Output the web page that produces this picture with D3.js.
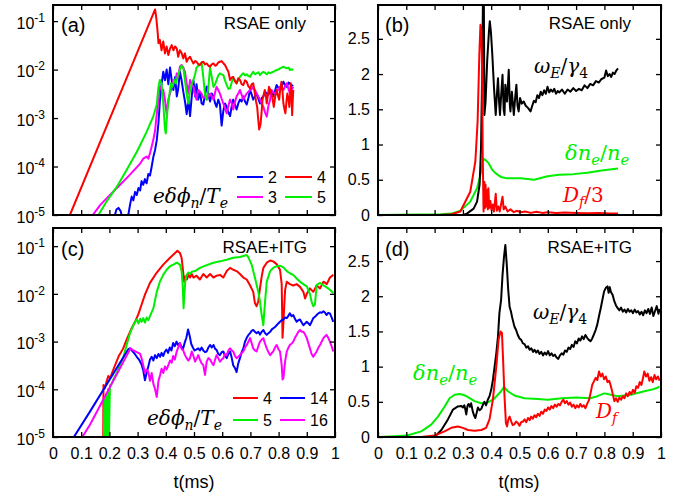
<!DOCTYPE html>
<html>
<head>
<meta charset="utf-8">
<script src="https://cdn.jsdelivr.net/npm/d3@7"></script>
<style>
  body { margin: 0; background: #fff; }
  text { font-family: "Liberation Sans", Arial, Helvetica, sans-serif; fill: #000; }
  .math { font-family: "DejaVu Serif", "Liberation Serif", serif; }
</style>
</head>
<body>
<svg id="fig" width="677" height="498"></svg>
<script>
// ---- data: [t (ms), value] ----

// tick values / labels
var xTicks = [0, 0.1, 0.2, 0.3, 0.4, 0.5, 0.6, 0.7, 0.8, 0.9, 1];
var xTickLabels = ["0", "0.1", "0.2", "0.3", "0.4", "0.5", "0.6", "0.7", "0.8", "0.9", "1"];
var logTicks = [1e-5, 1e-4, 1e-3, 1e-2, 1e-1];
var logTickExps = ["-5", "-4", "-3", "-2", "-1"];
var linTicks = [0, 0.5, 1, 1.5, 2, 2.5];
var linTickLabels = ["0", "0.5", "1", "1.5", "2", "2.5"];

// (a) RSAE only, e dphi_n / T_e
var a_n2 = [[0.215,8e-6],[0.225,1.3e-5],[0.232,1.4e-5],[0.240,1.2e-5],[0.245,9e-6],[0.262,5e-6],[0.267,1e-5],[0.273,1.6e-5],[0.279,2.4e-5],[0.285,2.0e-5],[0.291,3.0e-5],[0.297,2.6e-5],[0.303,3.6e-5],[0.309,3.2e-5],[0.314,5.0e-5],[0.320,4.2e-5],[0.326,5.5e-5],[0.332,4.5e-5],[0.338,7e-5],[0.344,6.5e-5],[0.350,1.0e-4],[0.356,1.6e-4],[0.362,2.2e-4],[0.368,3.5e-4],[0.374,8e-4],[0.379,2.2e-3],[0.385,5e-3],[0.391,9e-3],[0.397,6e-3],[0.403,1.0e-2],[0.409,5e-3],[0.415,1.1e-2],[0.421,6e-3],[0.427,3.8e-3],[0.433,7e-3],[0.439,2.8e-3],[0.444,4e-3],[0.450,9e-3],[0.456,6e-3],[0.462,3.5e-3],[0.468,2.2e-3],[0.474,1.2e-3],[0.480,2.4e-3],[0.486,1.1e-3],[0.492,2.8e-3],[0.498,6e-3],[0.504,2.8e-3],[0.509,5e-3],[0.515,2.4e-3],[0.521,3.5e-3],[0.527,2.0e-3],[0.533,1.9e-3],[0.539,3.0e-3],[0.545,4.5e-3],[0.551,3.0e-3],[0.557,2.2e-3],[0.563,3.2e-3],[0.569,2.8e-3],[0.575,2.0e-3],[0.580,1.7e-3],[0.586,2.4e-3],[0.592,1.9e-3],[0.598,7e-4],[0.604,1.4e-3],[0.610,2.0e-3],[0.616,1.7e-3],[0.622,1.3e-3],[0.628,1.1e-3],[0.634,1.8e-3],[0.639,2.4e-3],[0.645,1.9e-3],[0.651,1.5e-3],[0.657,2.0e-3],[0.663,2.4e-3],[0.669,2.2e-3],[0.675,2.8e-3],[0.681,2.2e-3],[0.687,1.9e-3],[0.693,2.6e-3],[0.699,3.8e-3],[0.705,3.0e-3],[0.710,2.4e-3],[0.716,2.8e-3],[0.722,3.2e-3],[0.728,2.5e-3],[0.734,2.0e-3],[0.740,2.6e-3],[0.746,2.8e-3],[0.752,3.5e-3],[0.758,3.2e-3],[0.764,3.0e-3],[0.770,3.8e-3],[0.776,3.2e-3],[0.781,2.8e-3],[0.787,3.6e-3],[0.793,4.8e-3],[0.799,4.2e-3],[0.805,3.8e-3],[0.811,4.6e-3],[0.817,5.6e-3],[0.823,4.8e-3],[0.829,4.4e-3],[0.835,5.4e-3],[0.840,5.2e-3],[0.846,4.6e-3],[0.852,4.8e-3]];
var a_n3 = [[0.141,1e-5],[0.167,1.6e-5],[0.202,2.6e-5],[0.238,4.2e-5],[0.273,6.8e-5],[0.309,1.15e-4],[0.320,1.45e-4],[0.332,1.6e-4],[0.338,1.45e-4],[0.344,1.9e-4],[0.350,2.6e-4],[0.356,3.6e-4],[0.362,5.6e-4],[0.368,1.2e-3],[0.374,2.4e-3],[0.379,4.4e-3],[0.385,4.0e-3],[0.391,3.8e-3],[0.397,2.4e-3],[0.403,1.2e-3],[0.409,2.4e-3],[0.415,3.2e-3],[0.421,4.4e-3],[0.427,6.1e-3],[0.433,5.5e-3],[0.439,8.4e-3],[0.444,7.1e-3],[0.450,1.15e-2],[0.456,1.24e-2],[0.462,1.1e-2],[0.468,9e-3],[0.474,5.2e-3],[0.480,3.2e-3],[0.486,6.1e-3],[0.492,5.0e-3],[0.498,4.4e-3],[0.504,3.0e-3],[0.509,2.4e-3],[0.515,3.8e-3],[0.521,3.5e-3],[0.527,3.2e-3],[0.533,2.6e-3],[0.539,2.8e-3],[0.545,2.4e-3],[0.551,2.9e-3],[0.557,3.2e-3],[0.563,2.8e-3],[0.569,2.4e-3],[0.575,3.4e-3],[0.580,4.4e-3],[0.586,3.8e-3],[0.592,3.2e-3],[0.598,2.5e-3],[0.604,2.0e-3],[0.610,1.6e-3],[0.616,1.25e-3],[0.622,1.8e-3],[0.628,2.4e-3],[0.634,2.0e-3],[0.639,1.5e-3],[0.645,2.1e-3],[0.651,2.8e-3],[0.657,3.2e-3],[0.663,3.8e-3],[0.669,3.0e-3],[0.675,2.4e-3],[0.681,2.8e-3],[0.687,3.2e-3],[0.693,3.5e-3],[0.699,3.8e-3],[0.705,4.0e-3],[0.710,4.4e-3],[0.716,3.8e-3],[0.722,3.2e-3],[0.728,2.8e-3],[0.734,2.4e-3],[0.740,2.0e-3],[0.746,1.7e-3],[0.752,1.3e-3],[0.758,1.07e-3],[0.764,1.8e-3],[0.770,2.4e-3],[0.775,3.8e-3],[0.781,3.4e-3],[0.787,3.2e-3],[0.793,3.4e-3],[0.799,3.9e-3],[0.805,4.4e-3],[0.811,4.1e-3],[0.817,3.8e-3],[0.823,4.5e-3],[0.829,5.2e-3],[0.835,4.0e-3],[0.840,3.2e-3],[0.846,3.8e-3],[0.852,4.4e-3]];
var a_n4 = [[0.060,1e-5],[0.362,0.174],[0.366,0.12],[0.371,0.06],[0.374,0.035],[0.379,0.041],[0.385,0.025],[0.391,0.038],[0.397,0.0216],[0.403,0.030],[0.409,0.020],[0.415,0.027],[0.421,0.032],[0.427,0.025],[0.433,0.030],[0.439,0.027],[0.444,0.0184],[0.450,0.025],[0.456,0.022],[0.462,0.017],[0.468,0.0216],[0.474,0.0145],[0.480,0.017],[0.486,0.0184],[0.492,0.0155],[0.498,0.0134],[0.504,0.0150],[0.509,0.0145],[0.515,0.0130],[0.521,0.0124],[0.527,0.0140],[0.533,0.0145],[0.539,0.0128],[0.545,0.0134],[0.551,0.0120],[0.557,0.0115],[0.563,0.0128],[0.569,0.0134],[0.575,0.0120],[0.580,0.0124],[0.586,0.0140],[0.592,0.0145],[0.598,0.0150],[0.604,0.0135],[0.610,0.0124],[0.616,0.0105],[0.622,0.0090],[0.628,0.0061],[0.634,0.0068],[0.639,0.0071],[0.645,0.0058],[0.651,0.0052],[0.657,0.0066],[0.663,0.0061],[0.669,0.0050],[0.675,0.0048],[0.681,0.0060],[0.687,0.0056],[0.693,0.0045],[0.699,0.0041],[0.705,0.0050],[0.710,0.0052],[0.716,0.0032],[0.720,0.0022],[0.724,0.0017],[0.728,0.0009],[0.731,0.00058],[0.736,0.00075],[0.740,0.0014],[0.743,0.0024],[0.747,0.0030],[0.751,0.0038],[0.755,0.0028],[0.758,0.0020],[0.762,0.0030],[0.766,0.0044],[0.770,0.0038],[0.775,0.0032],[0.779,0.0024],[0.783,0.0017],[0.788,0.0028],[0.793,0.0038],[0.797,0.0030],[0.802,0.0024],[0.806,0.0040],[0.810,0.0056],[0.814,0.0035],[0.817,0.0020],[0.821,0.0015],[0.824,0.00125],[0.828,0.0022],[0.831,0.0032],[0.835,0.0025],[0.838,0.0017],[0.841,0.0030],[0.843,0.0052],[0.846,0.0030],[0.848,0.00115],[0.850,0.0022],[0.852,0.0038]];
var a_n5 = [[0.161,1e-5],[0.190,1.9e-5],[0.226,3.8e-5],[0.261,8.5e-5],[0.297,2.0e-4],[0.332,5.2e-4],[0.356,1.1e-3],[0.368,1.9e-3],[0.374,4.4e-3],[0.379,6.1e-3],[0.385,5.2e-3],[0.391,2.0e-3],[0.397,6e-4],[0.400,4.8e-4],[0.406,1.5e-3],[0.412,2.8e-3],[0.418,5.2e-3],[0.424,4.4e-3],[0.430,6.1e-3],[0.436,5.2e-3],[0.442,7.1e-3],[0.450,1.0e-2],[0.456,1.2e-2],[0.462,1.1e-2],[0.468,6e-3],[0.474,3.2e-3],[0.480,2.0e-3],[0.486,3.8e-3],[0.492,5.0e-3],[0.498,6.1e-3],[0.504,8.0e-3],[0.509,1.1e-2],[0.515,1.2e-2],[0.521,1.25e-2],[0.527,1.4e-2],[0.533,7e-3],[0.539,3.0e-3],[0.545,2.4e-3],[0.551,4.4e-3],[0.557,1.1e-2],[0.563,7.0e-3],[0.569,4.4e-3],[0.575,5.0e-3],[0.580,6.1e-3],[0.586,7.5e-3],[0.592,8.4e-3],[0.598,8.0e-3],[0.604,7.7e-3],[0.610,6.0e-3],[0.616,4.8e-3],[0.622,4.0e-3],[0.628,4.1e-3],[0.634,5.5e-3],[0.639,6.6e-3],[0.645,6.0e-3],[0.651,5.2e-3],[0.657,6.2e-3],[0.663,7.1e-3],[0.669,7.8e-3],[0.675,8.4e-3],[0.681,7.6e-3],[0.687,8.0e-3],[0.693,7.4e-3],[0.699,7.1e-3],[0.705,8.2e-3],[0.710,9.0e-3],[0.716,8.0e-3],[0.722,8.4e-3],[0.728,8.8e-3],[0.734,7.7e-3],[0.740,8.5e-3],[0.746,9.0e-3],[0.752,8.6e-3],[0.758,8.0e-3],[0.764,8.8e-3],[0.770,8.4e-3],[0.776,8.8e-3],[0.781,9.0e-3],[0.787,9.4e-3],[0.793,9.8e-3],[0.799,1.0e-2],[0.805,1.06e-2],[0.811,1.1e-2],[0.817,1.15e-2],[0.823,1.1e-2],[0.829,1.06e-2],[0.835,1.1e-2],[0.840,9.8e-3],[0.846,1.02e-2],[0.852,9.8e-3]];

// (b) RSAE only
var b_omega = [[0,0],[0.30,0],[0.314,0.02],[0.338,0.09],[0.350,0.19],[0.359,0.43],[0.364,0.95],[0.368,2.0],[0.371,3.1],[0.374,3.1],[0.376,1.42],[0.380,1.6],[0.386,2.2],[0.392,2.6],[0.395,2.75],[0.399,2.6],[0.404,2.27],[0.410,1.80],[0.416,1.42],[0.420,1.70],[0.424,1.94],[0.428,1.60],[0.431,1.42],[0.436,1.75],[0.440,1.99],[0.444,1.50],[0.447,1.42],[0.450,1.85],[0.456,1.61],[0.462,2.06],[0.466,1.55],[0.468,1.47],[0.473,1.75],[0.480,1.42],[0.485,1.68],[0.489,1.85],[0.493,1.55],[0.497,1.47],[0.502,1.66],[0.508,1.58],[0.515,1.61],[0.522,1.55],[0.530,1.52],[0.539,1.47],[0.545,1.55],[0.551,1.62],[0.557,1.60],[0.563,1.70],[0.569,1.66],[0.575,1.75],[0.581,1.70],[0.587,1.77],[0.593,1.72],[0.599,1.82],[0.605,1.74],[0.611,1.78],[0.617,1.75],[0.623,1.79],[0.629,1.72],[0.635,1.76],[0.641,1.74],[0.650,1.78],[0.660,1.72],[0.670,1.78],[0.680,1.75],[0.690,1.80],[0.700,1.76],[0.710,1.79],[0.720,1.77],[0.730,1.84],[0.740,1.80],[0.750,1.86],[0.760,1.84],[0.770,1.90],[0.780,1.88],[0.790,1.93],[0.800,1.95],[0.806,2.05],[0.812,1.97],[0.818,2.00],[0.824,1.96],[0.830,2.02],[0.836,2.00],[0.842,2.05],[0.848,2.08]];
var b_dn = [[0,0],[0.22,0.01],[0.260,0.02],[0.291,0.06],[0.326,0.19],[0.350,0.38],[0.362,0.57],[0.372,0.80],[0.380,0.78],[0.390,0.74],[0.404,0.64],[0.416,0.59],[0.434,0.54],[0.457,0.52],[0.505,0.52],[0.552,0.50],[0.599,0.55],[0.640,0.57],[0.690,0.58],[0.740,0.60],[0.790,0.63],[0.848,0.66]];
var b_df3 = [[0,0],[0.22,0],[0.260,0.01],[0.291,0.05],[0.326,0.33],[0.344,0.76],[0.352,1.33],[0.358,2.27],[0.362,2.70],[0.365,2.65],[0.368,2.04],[0.370,0.85],[0.373,0.05],[0.376,0.47],[0.378,0.10],[0.380,0.43],[0.383,0.12],[0.386,0.35],[0.388,0.08],[0.390,0.38],[0.393,0.10],[0.397,0.20],[0.401,0.07],[0.406,0.15],[0.410,0.05],[0.416,0.30],[0.420,0.06],[0.425,0.12],[0.430,0.05],[0.440,0.26],[0.444,0.08],[0.450,0.12],[0.458,0.05],[0.468,0.08],[0.480,0.04],[0.490,0.06],[0.505,0.04],[0.520,0.05],[0.540,0.03],[0.56,0.045],[0.58,0.03],[0.60,0.04],[0.63,0.03],[0.66,0.035],[0.70,0.03],[0.74,0.025],[0.78,0.03],[0.82,0.02],[0.848,0.02]];

// (c) RSAE+ITG, e dphi_n / T_e
var c_n4 = [[0.178,6e-6],[0.179,1.23e-4],[0.184,1.05e-4],[0.190,1.45e-4],[0.196,1.9e-4],[0.202,1.7e-4],[0.214,2.6e-4],[0.232,4.8e-4],[0.249,7.2e-4],[0.261,1.1e-3],[0.279,1.9e-3],[0.291,2.6e-3],[0.303,3.8e-3],[0.314,5.9e-3],[0.326,9.6e-3],[0.344,1.7e-2],[0.368,2.8e-2],[0.391,4.1e-2],[0.415,5.7e-2],[0.433,7.2e-2],[0.441,8.0e-2],[0.450,7.2e-2],[0.456,5.7e-2],[0.460,3.5e-2],[0.465,1.8e-2],[0.469,2.3e-2],[0.475,2.0e-2],[0.480,2.5e-2],[0.486,2.2e-2],[0.492,2.6e-2],[0.498,2.2e-2],[0.509,2.4e-2],[0.521,2.0e-2],[0.533,2.6e-2],[0.545,2.2e-2],[0.557,2.6e-2],[0.569,2.2e-2],[0.580,2.4e-2],[0.592,2.5e-2],[0.604,2.2e-2],[0.616,3.0e-2],[0.628,3.5e-2],[0.639,3.2e-2],[0.651,3.0e-2],[0.663,2.6e-2],[0.675,2.2e-2],[0.687,2.0e-2],[0.699,1.5e-2],[0.710,1.1e-2],[0.716,6.4e-3],[0.722,5.5e-3],[0.728,7.0e-3],[0.734,1.3e-2],[0.740,2.3e-2],[0.746,3.5e-2],[0.758,4.5e-2],[0.770,5.0e-2],[0.781,4.8e-2],[0.793,4.2e-2],[0.805,3.2e-2],[0.811,1.6e-2],[0.814,1.2e-3],[0.817,2.5e-3],[0.823,1.2e-2],[0.829,1.8e-2],[0.840,1.6e-2],[0.852,1.5e-2],[0.864,1.6e-2],[0.876,1.4e-2],[0.888,1.1e-2],[0.894,8e-3],[0.900,1.0e-2],[0.911,1.3e-2],[0.923,1.1e-2],[0.935,1.5e-2],[0.947,1.3e-2],[0.959,1.8e-2],[0.971,1.6e-2],[0.982,2.2e-2],[0.994,2.5e-2]];
var c_n5 = [[0.180,5e-6],[0.182,6e-5],[0.185,6e-6],[0.188,8e-5],[0.191,6e-6],[0.195,1.0e-4],[0.198,7e-6],[0.202,1.2e-4],[0.208,1.3e-4],[0.214,1.6e-4],[0.226,2.2e-4],[0.238,3.2e-4],[0.250,4.8e-4],[0.261,8.5e-4],[0.273,1.5e-3],[0.285,2.2e-3],[0.291,2.6e-3],[0.297,2.9e-3],[0.303,2.4e-3],[0.309,3.0e-3],[0.314,2.6e-3],[0.320,3.1e-3],[0.326,2.5e-3],[0.332,3.2e-3],[0.338,2.8e-3],[0.344,3.4e-3],[0.356,5.0e-3],[0.368,1.1e-2],[0.379,1.8e-2],[0.391,2.5e-2],[0.403,3.2e-2],[0.415,3.8e-2],[0.427,4.1e-2],[0.439,4.5e-2],[0.450,4.1e-2],[0.456,3.0e-2],[0.460,1.5e-2],[0.463,5.0e-3],[0.466,1.0e-2],[0.469,1.8e-2],[0.474,2.5e-2],[0.480,2.8e-2],[0.486,2.6e-2],[0.492,2.9e-2],[0.504,3.0e-2],[0.521,3.5e-2],[0.545,4.0e-2],[0.569,4.5e-2],[0.592,4.8e-2],[0.616,5.2e-2],[0.639,5.7e-2],[0.663,5.9e-2],[0.687,6.5e-2],[0.693,5.8e-2],[0.699,4.8e-2],[0.705,4.0e-2],[0.710,3.0e-2],[0.716,2.2e-2],[0.722,1.55e-2],[0.728,1.1e-2],[0.734,6.9e-3],[0.740,3.6e-3],[0.746,2.2e-3],[0.749,4.0e-3],[0.752,6.9e-3],[0.758,1.8e-2],[0.770,3.0e-2],[0.781,3.5e-2],[0.793,3.8e-2],[0.805,3.9e-2],[0.817,3.6e-2],[0.829,3.0e-2],[0.840,2.7e-2],[0.852,2.5e-2],[0.864,2.1e-2],[0.876,1.8e-2],[0.888,1.6e-2],[0.900,1.44e-2],[0.911,1.0e-2],[0.917,6.9e-3],[0.923,5.5e-3],[0.929,6.0e-3],[0.935,1.55e-2],[0.947,1.7e-2],[0.959,1.5e-2],[0.965,1.44e-2],[0.976,1.3e-2],[0.982,1.22e-2],[0.994,1.04e-2]];
var c_n14 = [[0.074,1e-5],[0.131,3.4e-5],[0.267,6.9e-4],[0.273,7.2e-4],[0.280,6.5e-4],[0.290,5.5e-4],[0.297,4.8e-4],[0.305,4.2e-4],[0.314,3.3e-4],[0.320,2.5e-4],[0.326,1.55e-4],[0.332,2.2e-4],[0.338,3.0e-4],[0.344,4.2e-4],[0.350,4.8e-4],[0.356,4.0e-4],[0.362,5.2e-4],[0.368,4.5e-4],[0.374,5.5e-4],[0.380,4.8e-4],[0.385,5.8e-4],[0.391,5.0e-4],[0.397,6.2e-4],[0.402,6.8e-4],[0.408,5.8e-4],[0.414,7.5e-4],[0.420,6.5e-4],[0.426,9.3e-4],[0.432,8.0e-4],[0.438,1.0e-3],[0.443,8.5e-4],[0.449,9.3e-4],[0.455,8.0e-4],[0.461,7.0e-4],[0.467,9.5e-4],[0.473,1.2e-3],[0.479,1.8e-3],[0.485,1.3e-3],[0.490,9.0e-4],[0.496,7.5e-4],[0.502,6.5e-4],[0.508,6.8e-4],[0.515,7.2e-4],[0.521,6.5e-4],[0.527,7.5e-4],[0.533,6.5e-4],[0.539,6.0e-4],[0.545,6.2e-4],[0.551,7.5e-4],[0.557,8.5e-4],[0.563,7.5e-4],[0.569,8.5e-4],[0.575,7.0e-4],[0.580,6.7e-4],[0.586,5.5e-4],[0.592,5.2e-4],[0.598,6.0e-4],[0.604,6.2e-4],[0.610,5.0e-4],[0.616,4.5e-4],[0.622,5.5e-4],[0.628,6.2e-4],[0.634,4.5e-4],[0.639,3.2e-4],[0.645,2.8e-4],[0.651,2.3e-4],[0.657,3.5e-4],[0.663,4.5e-4],[0.669,6.0e-4],[0.675,7.2e-4],[0.681,1.0e-3],[0.687,1.2e-3],[0.693,1.38e-3],[0.699,1.5e-3],[0.705,1.7e-3],[0.710,1.75e-3],[0.716,1.6e-3],[0.722,1.5e-3],[0.728,1.6e-3],[0.734,1.4e-3],[0.740,1.6e-3],[0.746,1.75e-3],[0.752,1.5e-3],[0.758,1.38e-3],[0.764,1.5e-3],[0.770,1.6e-3],[0.776,1.8e-3],[0.781,1.9e-3],[0.787,2.0e-3],[0.793,2.2e-3],[0.799,2.4e-3],[0.805,2.6e-3],[0.811,2.8e-3],[0.817,2.9e-3],[0.823,3.2e-3],[0.829,3.1e-3],[0.835,3.5e-3],[0.840,3.9e-3],[0.846,3.4e-3],[0.852,3.6e-3],[0.858,3.0e-3],[0.864,2.6e-3],[0.870,2.8e-3],[0.876,2.9e-3],[0.882,2.5e-3],[0.888,2.2e-3],[0.894,2.4e-3],[0.900,2.6e-3],[0.906,2.4e-3],[0.911,2.2e-3],[0.917,2.6e-3],[0.923,3.1e-3],[0.929,3.3e-3],[0.935,3.6e-3],[0.941,3.9e-3],[0.947,4.1e-3],[0.953,4.0e-3],[0.959,4.3e-3],[0.965,4.0e-3],[0.970,3.6e-3],[0.976,4.0e-3],[0.982,3.9e-3],[0.988,3.2e-3],[0.994,2.6e-3]];
var c_n16 = [[0.104,1e-5],[0.131,1.8e-5],[0.275,7.2e-4],[0.285,6.5e-4],[0.297,6.0e-4],[0.309,5.5e-4],[0.314,4.5e-4],[0.320,3.2e-4],[0.326,2.2e-4],[0.332,2.6e-4],[0.338,2.3e-4],[0.344,1.5e-4],[0.350,2.2e-4],[0.356,1.3e-4],[0.362,1.0e-4],[0.368,6.9e-5],[0.374,1.5e-4],[0.380,2.0e-4],[0.385,2.7e-4],[0.391,2.2e-4],[0.397,3.0e-4],[0.403,2.6e-4],[0.409,3.2e-4],[0.415,4.0e-4],[0.421,3.6e-4],[0.426,5.0e-4],[0.432,4.2e-4],[0.438,6.0e-4],[0.444,7.5e-4],[0.450,9.3e-4],[0.456,7.0e-4],[0.462,6.5e-4],[0.468,5.2e-4],[0.474,4.5e-4],[0.480,4.0e-4],[0.486,4.5e-4],[0.492,6.2e-4],[0.498,5.0e-4],[0.504,3.8e-4],[0.510,4.5e-4],[0.515,5.2e-4],[0.521,4.2e-4],[0.527,3.5e-4],[0.533,3.2e-4],[0.539,2.0e-4],[0.545,3.8e-4],[0.551,4.5e-4],[0.557,4.2e-4],[0.563,3.6e-4],[0.569,3.2e-4],[0.575,4.2e-4],[0.580,5.2e-4],[0.586,4.5e-4],[0.592,3.8e-4],[0.598,4.2e-4],[0.604,4.5e-4],[0.610,5.5e-4],[0.616,5.2e-4],[0.622,6.5e-4],[0.628,7.2e-4],[0.634,6.5e-4],[0.639,6.2e-4],[0.645,5.0e-4],[0.651,4.5e-4],[0.657,4.8e-4],[0.663,5.2e-4],[0.669,5.8e-4],[0.675,6.2e-4],[0.681,7.5e-4],[0.687,8.5e-4],[0.693,1.0e-3],[0.699,1.18e-3],[0.705,9.0e-4],[0.710,7.2e-4],[0.716,6.5e-4],[0.722,6.2e-4],[0.728,8.0e-4],[0.734,1.0e-3],[0.740,1.1e-3],[0.746,1.18e-3],[0.752,9.0e-4],[0.758,7.2e-4],[0.764,6.0e-4],[0.770,5.2e-4],[0.776,5.8e-4],[0.781,6.2e-4],[0.787,7.5e-4],[0.793,8.5e-4],[0.799,7.0e-4],[0.805,6.2e-4],[0.811,3.2e-4],[0.814,1.6e-4],[0.817,1.7e-4],[0.823,3.8e-4],[0.829,6.2e-4],[0.835,7.5e-4],[0.840,8.5e-4],[0.846,9.0e-4],[0.852,1.0e-3],[0.858,1.2e-3],[0.864,1.38e-3],[0.870,1.6e-3],[0.876,1.75e-3],[0.882,1.6e-3],[0.888,1.6e-3],[0.894,1.4e-3],[0.900,1.18e-3],[0.906,9.0e-4],[0.911,7.2e-4],[0.917,5.5e-4],[0.923,4.8e-4],[0.929,5.5e-4],[0.935,6.2e-4],[0.941,7.5e-4],[0.947,8.5e-4],[0.953,1.0e-3],[0.959,1.18e-3],[0.965,1.3e-3],[0.970,1.38e-3],[0.976,1.2e-3],[0.982,1.0e-3],[0.988,8.0e-4],[0.994,6.2e-4]];

// (d) RSAE+ITG
var d_omega = [[0,0],[0.2,0],[0.224,0.10],[0.247,0.25],[0.265,0.39],[0.282,0.435],[0.295,0.44],[0.300,0.42],[0.305,0.45],[0.308,0.40],[0.312,0.32],[0.316,0.44],[0.320,0.47],[0.325,0.43],[0.329,0.48],[0.335,0.36],[0.340,0.30],[0.344,0.27],[0.349,0.35],[0.353,0.42],[0.359,0.38],[0.365,0.40],[0.371,0.46],[0.376,0.50],[0.382,0.45],[0.388,0.53],[0.394,0.58],[0.400,0.67],[0.406,0.81],[0.412,1.0],[0.418,1.19],[0.424,1.43],[0.429,1.76],[0.435,1.95],[0.440,2.3],[0.445,2.55],[0.450,2.73],[0.455,2.45],[0.460,2.1],[0.465,1.85],[0.470,1.78],[0.474,1.70],[0.482,1.57],[0.488,1.52],[0.494,1.45],[0.500,1.40],[0.506,1.38],[0.512,1.33],[0.518,1.32],[0.524,1.27],[0.530,1.29],[0.536,1.24],[0.542,1.26],[0.548,1.21],[0.553,1.24],[0.559,1.20],[0.565,1.23],[0.571,1.18],[0.577,1.21],[0.583,1.16],[0.589,1.20],[0.595,1.17],[0.601,1.22],[0.607,1.16],[0.613,1.19],[0.619,1.15],[0.625,1.17],[0.631,1.13],[0.637,1.11],[0.643,1.16],[0.649,1.19],[0.655,1.17],[0.661,1.23],[0.667,1.21],[0.673,1.27],[0.679,1.25],[0.685,1.31],[0.691,1.28],[0.697,1.36],[0.703,1.33],[0.709,1.40],[0.715,1.37],[0.721,1.43],[0.727,1.39],[0.733,1.45],[0.739,1.41],[0.745,1.38],[0.751,1.36],[0.757,1.40],[0.763,1.46],[0.769,1.52],[0.775,1.60],[0.781,1.72],[0.787,1.83],[0.793,1.95],[0.799,2.07],[0.805,2.12],[0.811,2.14],[0.815,2.05],[0.819,2.13],[0.823,2.06],[0.829,2.02],[0.835,1.93],[0.841,1.87],[0.847,1.83],[0.853,1.80],[0.859,1.84],[0.865,1.78],[0.871,1.81],[0.877,1.77],[0.883,1.82],[0.889,1.78],[0.895,1.80],[0.901,1.76],[0.907,1.81],[0.913,1.77],[0.919,1.79],[0.925,1.74],[0.931,1.78],[0.937,1.73],[0.943,1.80],[0.949,1.76],[0.955,1.82],[0.961,1.75],[0.967,1.84],[0.973,1.72],[0.979,1.79],[0.985,1.86],[0.991,1.75],[0.995,1.82]];
var d_dn = [[0,0],[0.06,0.01],[0.10,0.02],[0.118,0.04],[0.153,0.08],[0.188,0.175],[0.212,0.29],[0.235,0.43],[0.253,0.55],[0.271,0.60],[0.288,0.61],[0.300,0.60],[0.312,0.58],[0.341,0.51],[0.365,0.48],[0.388,0.49],[0.412,0.55],[0.435,0.65],[0.445,0.71],[0.459,0.65],[0.482,0.59],[0.518,0.55],[0.565,0.54],[0.60,0.53],[0.65,0.55],[0.70,0.56],[0.75,0.55],[0.775,0.58],[0.80,0.62],[0.823,0.60],[0.846,0.58],[0.87,0.59],[0.894,0.60],[0.917,0.625],[0.941,0.65],[0.965,0.67],[0.988,0.70],[0.995,0.72]];
var d_df = [[0,0],[0.153,0],[0.2,0.02],[0.235,0.08],[0.259,0.13],[0.282,0.15],[0.300,0.13],[0.318,0.10],[0.341,0.09],[0.365,0.10],[0.382,0.13],[0.394,0.25],[0.406,0.53],[0.418,1.0],[0.426,1.38],[0.433,1.50],[0.438,1.48],[0.442,1.10],[0.447,0.58],[0.452,0.20],[0.456,0.15],[0.460,0.24],[0.465,0.29],[0.471,0.22],[0.476,0.17],[0.482,0.18],[0.488,0.22],[0.494,0.20],[0.500,0.16],[0.506,0.21],[0.512,0.22],[0.518,0.25],[0.524,0.21],[0.530,0.27],[0.536,0.24],[0.541,0.29],[0.547,0.26],[0.553,0.31],[0.559,0.28],[0.565,0.33],[0.571,0.30],[0.577,0.36],[0.583,0.33],[0.589,0.39],[0.595,0.37],[0.601,0.42],[0.607,0.39],[0.613,0.44],[0.619,0.41],[0.625,0.46],[0.631,0.43],[0.637,0.47],[0.643,0.45],[0.649,0.50],[0.655,0.53],[0.661,0.48],[0.667,0.51],[0.673,0.46],[0.679,0.49],[0.685,0.43],[0.691,0.46],[0.697,0.41],[0.703,0.45],[0.709,0.42],[0.715,0.47],[0.721,0.43],[0.727,0.45],[0.733,0.41],[0.739,0.47],[0.745,0.52],[0.751,0.62],[0.757,0.74],[0.763,0.79],[0.769,0.84],[0.775,0.81],[0.781,0.93],[0.787,0.86],[0.793,0.90],[0.799,0.82],[0.805,0.86],[0.811,0.78],[0.817,0.80],[0.823,0.72],[0.829,0.62],[0.835,0.51],[0.841,0.55],[0.847,0.50],[0.853,0.56],[0.859,0.53],[0.865,0.58],[0.871,0.55],[0.877,0.62],[0.883,0.58],[0.889,0.64],[0.895,0.61],[0.901,0.67],[0.907,0.63],[0.913,0.72],[0.919,0.70],[0.925,0.78],[0.931,0.74],[0.937,0.85],[0.941,0.93],[0.947,0.86],[0.953,0.90],[0.959,0.80],[0.965,0.85],[0.971,0.78],[0.977,0.88],[0.983,0.82],[0.989,0.86],[0.995,0.80]];

// ---- styles ----
var RED = "#ff0000", GREEN = "#00ee00", BLUE = "#0000ff", MAG = "#ff00ff", BLACK = "#000000";

var svg = d3.select("#fig");

// one panel: box in px, y scale type, domain, whether x labels are drawn
function makePanel(id, box, ytype, ydom, showX) {
  var x = d3.scaleLinear().domain([0, 1]).range([box.x0, box.x1]);
  var y = (ytype == "log" ? d3.scaleLog() : d3.scaleLinear()).domain(ydom).range([box.y1, box.y0]);

  svg.append("clipPath").attr("id", "clip-" + id)
    .append("rect")
    .attr("x", box.x0).attr("y", box.y0)
    .attr("width", box.x1 - box.x0).attr("height", box.y1 - box.y0);

  var plot = svg.append("g").attr("clip-path", "url(#clip-" + id + ")");

  // ticks, all pointing inwards
  svg.append("g").attr("transform", "translate(0," + box.y1 + ")")
    .call(d3.axisBottom(x).tickValues(xTicks).tickSize(-5).tickPadding(11)
      .tickFormat(function(d, i) { return showX ? xTickLabels[i] : ""; }));
  svg.append("g").attr("transform", "translate(0," + box.y0 + ")")
    .call(d3.axisTop(x).tickValues(xTicks).tickSize(-5).tickFormat(""));

  var yt = ytype == "log" ? logTicks : linTicks;
  var left = svg.append("g").attr("transform", "translate(" + box.x0 + ",0)")
    .call(d3.axisLeft(y).tickValues(yt).tickSize(-5).tickPadding(8)
      .tickFormat(function(d, i) { return ytype == "log" ? "" : linTickLabels[i]; }));
  svg.append("g").attr("transform", "translate(" + box.x1 + ",0)")
    .call(d3.axisRight(y).tickValues(yt).tickSize(-5).tickFormat(""));

  svg.selectAll(".domain").remove();
  svg.selectAll(".tick line").attr("stroke", "#000").attr("stroke-width", 1.3);
  svg.selectAll(".tick text").attr("font-size", 16).attr("font-family", "Liberation Sans, Arial, sans-serif").attr("fill", "#000");

  if (ytype == "log") {
    left.selectAll(".tick text").each(function(d, i) {
      var t = d3.select(this).attr("dy", "0.45em");
      t.append("tspan").text("10");
      t.append("tspan").attr("dy", "-7").attr("font-size", 12).text(logTickExps[i]);
    });
  }

  return { x: x, y: y, plot: plot, box: box };
}

function drawLine(p, data, color) {
  var line = d3.line().x(function(d) { return p.x(d[0]); }).y(function(d) { return p.y(d[1]); });
  p.plot.append("path").datum(data)
    .attr("d", line)
    .attr("fill", "none")
    .attr("stroke", color)
    .attr("stroke-width", 2)
    .attr("stroke-linejoin", "round");
}

function frame(p) {
  var b = p.box;
  svg.append("rect").attr("x", b.x0).attr("y", b.y0)
    .attr("width", b.x1 - b.x0).attr("height", b.y1 - b.y0)
    .attr("fill", "none").attr("stroke", "#000").attr("stroke-width", 2);
}

function label(x, y, txt, size, anchor) {
  svg.append("text").attr("x", x).attr("y", y).attr("font-size", size)
    .attr("text-anchor", anchor || "start").text(txt);
}

// math text built from parts: [text, kind] kind: i = italic, r = roman, s = italic subscript, sr = roman subscript
function math(x, y, parts, size, color) {
  var t = svg.append("text").attr("class", "math").attr("x", x).attr("y", y)
    .attr("font-size", size).style("fill", color);
  var shift = 0;
  parts.forEach(function(p) {
    var sub = p[1] == "s" || p[1] == "sr";
    var dy = (sub ? 5 : 0) - shift;
    shift = sub ? 5 : 0;
    t.append("tspan").attr("dy", dy)
      .attr("font-size", sub ? size * 0.7 : size)
      .attr("font-style", (p[1] == "r" || p[1] == "sr") ? "normal" : "italic")
      .style("fill", color)
      .text(p[0]);
  });
}

function legendRow(x1, x2, y, color, txt) {
  svg.append("line").attr("x1", x1).attr("x2", x2).attr("y1", y).attr("y2", y)
    .attr("stroke", color).attr("stroke-width", 2);
  label(x2 + 5, y + 6, txt, 16);
}

var phiLabel = [["e", "i"], ["δϕ", "i"], ["n", "s"], ["/", "r"], ["T", "i"], ["e", "s"]];
var omegaLabel = [["ω", "i"], ["E", "s"], ["/", "r"], ["γ", "i"], ["4", "sr"]];
var dnLabel = [["δn", "i"], ["e", "s"], ["/", "r"], ["n", "i"], ["e", "s"]];

// ---- (a) ----
var pa = makePanel("a", {x0: 53, x1: 335, y0: 5, y1: 215}, "log", [1e-5, 0.215], false);
drawLine(pa, a_n2, BLUE);
drawLine(pa, a_n3, MAG);
drawLine(pa, a_n5, GREEN);
drawLine(pa, a_n4, RED);
frame(pa);
label(61, 32, "(a)", 20);
label(306, 29, "RSAE only", 17, "end");
legendRow(237, 263, 177, BLUE, "2");
legendRow(285, 312, 177, RED, "4");
legendRow(237, 263, 197, MAG, "3");
legendRow(285, 312, 197, GREEN, "5");
math(153, 203, phiLabel, 20, "#000");

// ---- (b) ----
var pb = makePanel("b", {x0: 378, x1: 661, y0: 5, y1: 215}, "lin", [0, 2.98], false);
drawLine(pb, b_dn, GREEN);
drawLine(pb, b_omega, BLACK);
drawLine(pb, b_df3, RED);
frame(pb);
label(385, 32, "(b)", 20);
label(631, 29, "RSAE only", 17, "end");
math(534, 73, omegaLabel, 20, "#000");
math(565, 160, dnLabel, 21, GREEN);
math(563, 202, [["D", "i"], ["f", "s"], ["/3", "r"]], 20, RED);

// ---- (c) ----
var pc = makePanel("c", {x0: 53, x1: 335, y0: 228, y1: 437}, "log", [1e-5, 0.24], true);
drawLine(pc, c_n4, RED);
drawLine(pc, c_n5, GREEN);
drawLine(pc, c_n14, BLUE);
drawLine(pc, c_n16, MAG);
frame(pc);
label(61, 256, "(c)", 20);
label(307, 253, "RSAE+ITG", 17, "end");
legendRow(233, 258, 398, RED, "4");
legendRow(280, 305, 398, BLUE, "14");
legendRow(233, 258, 420, GREEN, "5");
legendRow(280, 305, 420, MAG, "16");
math(147, 425, phiLabel, 20, "#000");
label(194, 488, "t(ms)", 18, "middle");

// ---- (d) ----
var pd = makePanel("d", {x0: 378, x1: 661, y0: 228, y1: 437}, "lin", [0, 2.97], true);
drawLine(pd, d_dn, GREEN);
drawLine(pd, d_omega, BLACK);
drawLine(pd, d_df, RED);
frame(pd);
label(385, 256, "(d)", 20);
label(632, 253, "RSAE+ITG", 17, "end");
math(533, 319, omegaLabel, 20, "#000");
math(413, 380, dnLabel, 21, GREEN);
math(596, 418, [["D", "i"], ["f", "s"]], 20, RED);
label(519, 488, "t(ms)", 18, "middle");
</script>
</body>
</html>
